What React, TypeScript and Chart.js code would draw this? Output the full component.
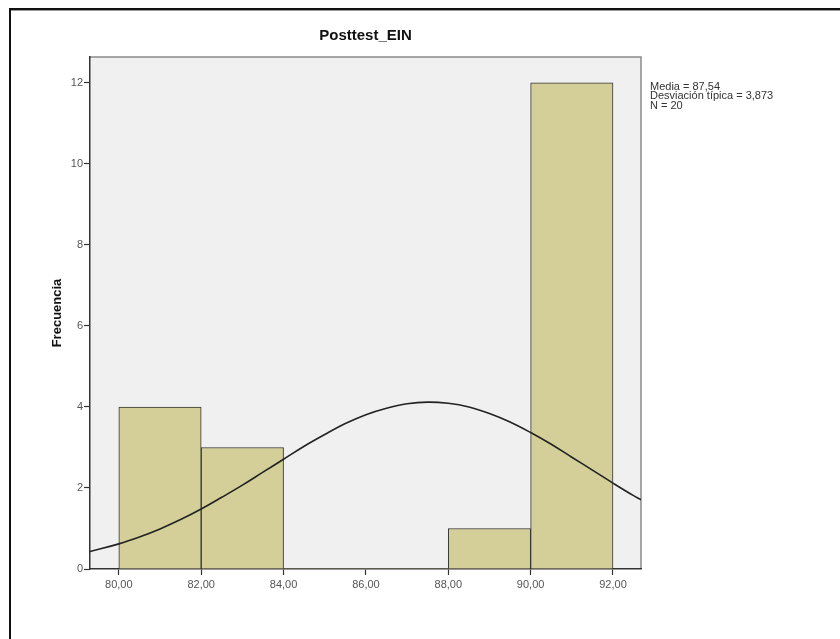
import React, { useEffect, useRef } from "react";
import { Chart, registerables } from "chart.js";

Chart.register(...registerables);

const binCenters = [81, 83, 85, 87, 89, 91];
const binCounts = [4, 3, 0, 0, 1, 12];
const xTickValues = [80, 82, 84, 86, 88, 90, 92];
const yTickValues = [0, 2, 4, 6, 8, 10, 12];
const curveX = [79.3, 80, 80.5, 81, 81.5, 82, 82.5, 83, 83.5, 84, 84.5, 85, 85.5, 86, 86.5, 87, 87.5, 88, 88.5, 89, 89.5, 90, 90.5, 91, 91.5, 92, 92.5, 92.68];
const curveY = [0.43, 0.62, 0.79, 0.99, 1.22, 1.48, 1.77, 2.07, 2.39, 2.71, 3.03, 3.32, 3.59, 3.81, 3.97, 4.08, 4.12, 4.09, 4.0, 3.84, 3.63, 3.37, 3.08, 2.76, 2.44, 2.12, 1.81, 1.71];
const statsLines = ["Media = 87,54", "Desviación típica = 3,873", "N = 20"];
const chartTitle = "Posttest_EIN";
const yTitle = "Frecuencia";

const FONT = "'Liberation Sans', Arial, sans-serif";

export default function App() {
  const ref = useRef<HTMLCanvasElement | null>(null);

  useEffect(() => {
    const canvas = ref.current;
    if (!canvas) return;

    const decor = {
      id: "decor",
      beforeDraw(chart: any) {
        const { ctx, chartArea: a, width, height } = chart;
        ctx.save();
        ctx.fillStyle = "#ffffff";
        ctx.fillRect(0, 0, width, height);
        ctx.fillStyle = "#111111";
        ctx.fillRect(9, 8, width - 9, 2);
        ctx.fillRect(9, 8, 2, height - 8);
        ctx.fillStyle = "#9a9a9a";
        ctx.fillRect(11, 10, width - 11, 1);
        ctx.fillStyle = "#f0f0f0";
        ctx.fillRect(a.left, a.top, a.right - a.left, a.bottom - a.top);
        ctx.strokeStyle = "#8a8a8a";
        ctx.lineWidth = 1.5;
        ctx.beginPath();
        ctx.moveTo(a.left, a.top);
        ctx.lineTo(a.right, a.top);
        ctx.lineTo(a.right, a.bottom);
        ctx.stroke();
        ctx.restore();
      },
      afterDraw(chart: any) {
        const { ctx, chartArea: a } = chart;
        ctx.save();
        ctx.fillStyle = "#333333";
        ctx.font = `11px ${FONT}`;
        ctx.textBaseline = "middle";
        ctx.textAlign = "left";
        statsLines.forEach((s, i) => {
          ctx.fillText(s, a.right + 9, 86.5 + i * 9.8);
        });
        ctx.restore();
      },
    };

    const chart = new Chart(canvas, {
      type: "bar",
      data: {
        datasets: [
          {
            type: "line",
            data: curveX.map((x, i) => ({ x, y: curveY[i] })),
            borderColor: "#222222",
            borderWidth: 1.6,
            pointRadius: 0,
            tension: 0.4,
            fill: false,
            order: 0,
          } as any,
          {
            type: "bar",
            data: binCenters.map((x, i) => ({ x, y: binCounts[i] })),
            backgroundColor: "#d4cf98",
            borderColor: "#333333",
            borderWidth: binCounts.map((c) => (c > 0 ? 1 : 0)),
            borderSkipped: "bottom",
            barPercentage: 1,
            categoryPercentage: 1,
            order: 1,
          } as any,
        ],
      },
      options: {
        animation: false,
        responsive: false,
        maintainAspectRatio: false,
        layout: { padding: { left: 0, right: 199, top: 0, bottom: 0 } },
        plugins: {
          legend: { display: false },
          tooltip: { enabled: false },
          title: {
            display: true,
            text: chartTitle,
            fullSize: false,
            color: "#111111",
            font: { family: FONT, size: 15, weight: "bold" },
            padding: { top: 27, bottom: 12 },
          } as any,
        },
        scales: {
          x: {
            type: "linear",
            offset: false,
            min: 79.3,
            max: 92.68,
            afterBuildTicks: (s: any) => {
              s.ticks = xTickValues.map((v) => ({ value: v }));
            },
            afterFit: (s: any) => {
              s.height = 70;
            },
            ticks: {
              color: "#555555",
              font: { family: FONT, size: 11 },
              padding: 3,
              maxRotation: 0,
              autoSkip: false,
              callback: (v: any) => Number(v).toFixed(2).replace(".", ","),
            },
            grid: {
              display: true,
              offset: false,
              drawOnChartArea: false,
              drawTicks: true,
              tickLength: 6,
              tickColor: "#333333",
              tickWidth: 1.2,
            },
            border: { display: true, color: "#333333", width: 1.5 },
          },
          y: {
            type: "linear",
            min: 0,
            max: 12.64,
            afterBuildTicks: (s: any) => {
              s.ticks = yTickValues.map((v) => ({ value: v }));
            },
            afterFit: (s: any) => {
              s.width = 90;
            },
            ticks: {
              color: "#555555",
              font: { family: FONT, size: 11 },
              padding: 1,
              autoSkip: false,
              callback: (v: any) => String(v),
            },
            grid: {
              display: true,
              drawOnChartArea: false,
              drawTicks: true,
              tickLength: 6,
              tickColor: "#333333",
              tickWidth: 1.2,
            },
            border: { display: true, color: "#333333", width: 1.5 },
            title: {
              display: true,
              text: yTitle,
              color: "#111111",
              font: { family: FONT, size: 13, weight: "bold" },
              padding: { top: 50, bottom: 0 },
            },
          },
        },
      } as any,
      plugins: [decor],
    });

    return () => chart.destroy();
  }, []);

  return (
    <div style={{ position: "fixed", left: 0, top: 0, width: 840, height: 639, background: "#fff" }}>
      <canvas ref={ref} width={840} height={639} style={{ display: "block", width: 840, height: 639 }} />
    </div>
  );
}
